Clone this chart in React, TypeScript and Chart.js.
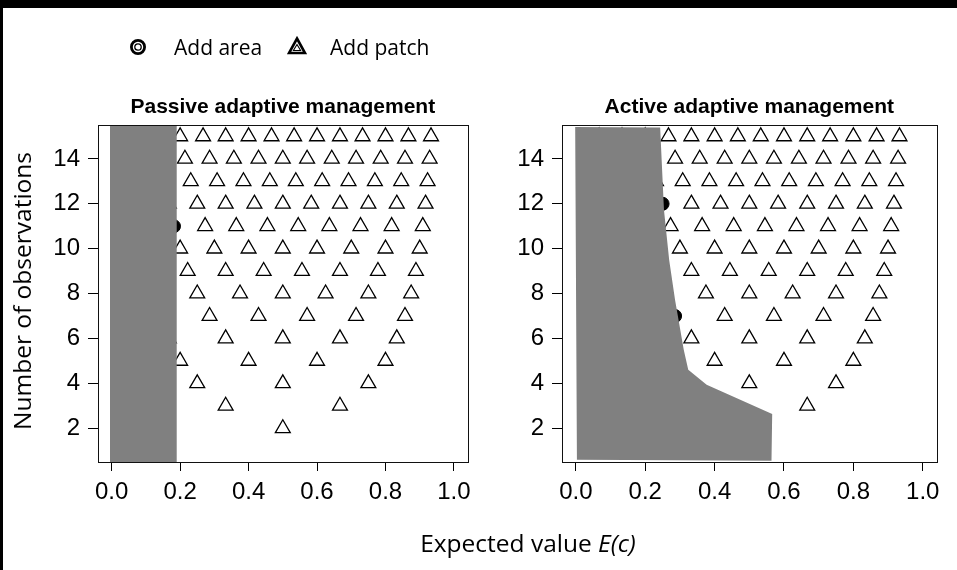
import React, { useEffect, useRef } from "react";
import { Chart, registerables } from "chart.js";

Chart.register(...registerables);

// ---- Data ----
const observations = [2, 3, 4, 5, 6, 7, 8, 9, 10, 11, 12, 13, 14, 15];

// Expected values E(c) evaluated for each number of observations (one row per observation count)
const expectedValues: number[][] = [
  [0.5],
  [0.333, 0.667],
  [0.25, 0.5, 0.75],
  [0.2, 0.4, 0.6, 0.8],
  [0.167, 0.333, 0.5, 0.667, 0.833],
  [0.143, 0.286, 0.429, 0.571, 0.714, 0.857],
  [0.125, 0.25, 0.375, 0.5, 0.625, 0.75, 0.875],
  [0.111, 0.222, 0.333, 0.444, 0.556, 0.667, 0.778, 0.889],
  [0.1, 0.2, 0.3, 0.4, 0.5, 0.6, 0.7, 0.8, 0.9],
  [0.091, 0.182, 0.273, 0.364, 0.455, 0.545, 0.636, 0.727, 0.818, 0.909],
  [0.083, 0.167, 0.25, 0.333, 0.417, 0.5, 0.583, 0.667, 0.75, 0.833, 0.917],
  [0.077, 0.154, 0.231, 0.308, 0.385, 0.462, 0.538, 0.615, 0.692, 0.769, 0.846, 0.923],
  [0.071, 0.143, 0.214, 0.286, 0.357, 0.429, 0.5, 0.571, 0.643, 0.714, 0.786, 0.857, 0.929],
  [0.067, 0.133, 0.2, 0.267, 0.333, 0.4, 0.467, 0.533, 0.6, 0.667, 0.733, 0.8, 0.867, 0.933],
];

// "Add area" decisions (E(c), observations)
const passiveAddAreaX = [0.182];
const passiveAddAreaY = [11];
const activeAddAreaX = [0.25, 0.286];
const activeAddAreaY = [12, 7];

// Shaded regions (polygon vertices)
const passiveRegionX = [-0.005, 0.19, 0.19, -0.005, -0.005];
const passiveRegionY = [0.5, 0.5, 15.5, 15.5, 0.5];
const activeRegionX = [-0.002, 0.243, 0.254, 0.269, 0.286, 0.311, 0.324, 0.377, 0.566, 0.564, 0.003, -0.002];
const activeRegionY = [15.42, 15.4, 11.72, 9.5, 7.72, 5.5, 4.61, 3.94, 2.64, 0.56, 0.6, 15.42];

const xTicks = [0, 0.2, 0.4, 0.6, 0.8, 1.0];
const yTicks = [2, 4, 6, 8, 10, 12, 14];

const titles = ["Passive adaptive management", "Active adaptive management"];
const legendLabels = ["Add area", "Add patch"];
const xTitle = "Expected value ";
const xTitleItalic = "E(c)";
const yTitle = "Number of observations";

const tickFont = { family: "'Liberation Sans', Arial, sans-serif", size: 24 };

const boxPlugin = {
  id: "plotBox",
  afterDraw(chart: any) {
    const { ctx, chartArea } = chart;
    ctx.save();
    ctx.strokeStyle = "#111";
    ctx.lineWidth = 1;
    ctx.strokeRect(
      Math.round(chartArea.left) + 0.5,
      Math.round(chartArea.top) + 0.5,
      Math.round(chartArea.right - chartArea.left),
      Math.round(chartArea.bottom - chartArea.top)
    );
    ctx.restore();
  },
};

function Panel(props: {
  left: number;
  width: number;
  title: string;
  areaX: number[];
  areaY: number[];
  regionX: number[];
  regionY: number[];
  padLeft: number;
  padRight: number;
}) {
  const ref = useRef<HTMLCanvasElement>(null);
  useEffect(() => {
    const canvas = ref.current;
    if (!canvas) return;
    const addArea = props.areaX.map((x, i) => ({ x, y: props.areaY[i] }));
    const patches: { x: number; y: number }[] = [];
    observations.forEach((obs, i) => {
      expectedValues[i].forEach((x) => {
        const isArea = addArea.some((p) => p.y === obs && Math.abs(p.x - x) < 0.002);
        if (!isArea) patches.push({ x, y: obs });
      });
    });
    const region = props.regionX.map((x, i) => ({ x, y: props.regionY[i] }));

    const chart = new Chart(canvas, {
      type: "scatter",
      data: {
        datasets: [
          {
            type: "line",
            label: "region",
            data: region,
            fill: "shape",
            backgroundColor: "#808080",
            borderColor: "#808080",
            borderWidth: 0,
            pointRadius: 0,
            tension: 0,
            order: 0,
          } as any,
          {
            label: legendLabels[0],
            data: addArea,
            pointStyle: "circle",
            pointRadius: 6.5,
            backgroundColor: "#000",
            borderColor: "#000",
            borderWidth: 1,
            order: 1,
          },
          {
            label: legendLabels[1],
            data: patches,
            pointStyle: "triangle",
            pointRadius: 8.6,
            backgroundColor: "rgba(0,0,0,0)",
            borderColor: "#000",
            borderWidth: 1.3,
            order: 2,
          },
        ],
      },
      options: {
        animation: false,
        responsive: false,
        events: [],
        layout: { padding: { left: props.padLeft, right: props.padRight, top: 0, bottom: 48 } },
        plugins: {
          legend: { display: false },
          tooltip: { enabled: false },
          title: {
            display: true,
            text: props.title,
            fullSize: false,
            color: "#000",
            font: { family: "'Liberation Sans', Arial, sans-serif", size: 21, weight: "bold", lineHeight: 1.2 },
            padding: { top: 95, bottom: 5 },
          },
        },
        scales: {
          x: {
            type: "linear",
            min: -0.04,
            max: 1.04,
            afterBuildTicks: (s: any) => {
              s.ticks = xTicks.map((v) => ({ value: v }));
            },
            afterFit: (s: any) => {
              s.height = 60;
            },
            ticks: {
              font: tickFont,
              color: "#000",
              padding: 7,
              maxRotation: 0,
              autoSkip: false,
              callback: (v: any) => Number(v).toFixed(1),
            },
            grid: { drawOnChartArea: false, drawTicks: true, tickLength: 9, color: "#000" },
            border: { display: true, color: "#000" },
          },
          y: {
            type: "linear",
            min: 0.5,
            max: 15.5,
            afterBuildTicks: (s: any) => {
              s.ticks = yTicks.map((v) => ({ value: v }));
            },
            afterFit: (s: any) => {
              s.width = 56;
            },
            ticks: {
              font: tickFont,
              color: "#000",
              padding: 8,
              autoSkip: false,
              callback: (v: any) => String(v),
            },
            grid: { drawOnChartArea: false, drawTicks: true, tickLength: 10, color: "#000" },
            border: { display: true, color: "#000" },
          },
        },
      } as any,
      plugins: [boxPlugin],
    });
    return () => chart.destroy();
  }, []);
  return (
    <canvas
      ref={ref}
      width={props.width}
      height={570}
      style={{ position: "absolute", left: props.left, top: 0, width: props.width, height: 570, display: "block" }}
    />
  );
}

const textFont = "'Open Sans', 'Noto Sans', sans-serif";

export default function App() {
  return (
    <div style={{ position: "absolute", left: 0, top: 0, width: 957, height: 570, background: "#fff", overflow: "hidden" }}>
      <Panel
        left={0}
        width={478}
        title={titles[0]}
        areaX={passiveAddAreaX}
        areaY={passiveAddAreaY}
        regionX={passiveRegionX}
        regionY={passiveRegionY}
        padLeft={42}
        padRight={5}
      />
      <Panel
        left={478}
        width={479}
        title={titles[1]}
        areaX={activeAddAreaX}
        areaY={activeAddAreaY}
        regionX={activeRegionX}
        regionY={activeRegionY}
        padLeft={28}
        padRight={20.4}
      />
      {/* frame */}
      <div style={{ position: "absolute", left: 0, top: 0, width: 957, height: 8, background: "#000" }} />
      <div style={{ position: "absolute", left: 0, top: 0, width: 3, height: 570, background: "#000" }} />
      {/* legend */}
      <svg style={{ position: "absolute", left: 129, top: 38 }} width={18} height={18}>
        <circle cx={9} cy={9} r={6.6} fill="#fff" stroke="#000" strokeWidth={2.8} />
        <circle cx={9} cy={9} r={3.2} fill="#fff" stroke="#000" strokeWidth={1.3} />
      </svg>
      <div style={{ position: "absolute", left: 174, top: 32, fontFamily: textFont, fontSize: 21, lineHeight: "30px", color: "#000", whiteSpace: "nowrap" }}>
        {legendLabels[0]}
      </div>
      <svg style={{ position: "absolute", left: 287, top: 36 }} width={20} height={20}>
        <polygon points="10,2.5 18,17 2,17" fill="#fff" stroke="#000" strokeWidth={2.6} strokeLinejoin="miter" />
        <polygon points="10,8.5 13.6,14.5 6.4,14.5" fill="#fff" stroke="#000" strokeWidth={1.1} />
      </svg>
      <div style={{ position: "absolute", left: 330, top: 32, fontFamily: textFont, fontSize: 21, lineHeight: "30px", color: "#000", whiteSpace: "nowrap" }}>
        {legendLabels[1]}
      </div>
      {/* y title */}
      <div
        style={{
          position: "absolute",
          left: 22,
          top: 291,
          transform: "translate(-50%, -50%) rotate(-90deg)",
          fontFamily: textFont,
          fontSize: 24.5,
          lineHeight: "30px",
          color: "#000",
          whiteSpace: "nowrap",
        }}
      >
        {yTitle}
      </div>
      {/* x title */}
      <div
        style={{
          position: "absolute",
          left: 528,
          top: 543,
          transform: "translate(-50%, -50%)",
          fontFamily: textFont,
          fontSize: 24.5,
          lineHeight: "30px",
          color: "#000",
          whiteSpace: "nowrap",
        }}
      >
        {xTitle}
        <i>{xTitleItalic}</i>
      </div>
    </div>
  );
}
